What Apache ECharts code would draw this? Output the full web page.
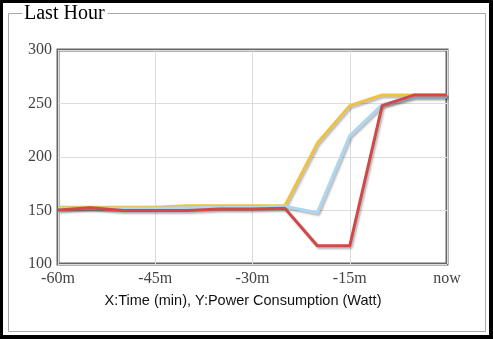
<!DOCTYPE html>
<html>
<head>
<meta charset="utf-8">
<script src="https://cdn.jsdelivr.net/npm/echarts@6/dist/echarts.min.js"></script>
<style>
  html, body { margin: 0; padding: 0; background: #000; }
  #chart { width: 493px; height: 339px; }
</style>
</head>
<body>
<div id="chart"></div>
<script>
// Minutes before now, one reading every 5 minutes
const minutes = [-60, -55, -50, -45, -40, -35, -30, -25, -20, -15, -10, -5, 0];

// Power consumption (W) of the three monitored feeds
const seriesYellow = [153, 153, 153, 153, 154.5, 154.5, 154.5, 154.5, 213, 248, 258, 258, 258];
const seriesBlue   = [152, 152, 152, 152, 152.5, 153, 153, 154, 148, 220, 249, 256, 256];
const seriesRed    = [150.5, 152.5, 150, 150, 150, 151.5, 151.5, 152, 117, 117, 248, 258, 258];

const seriesColors = ['#f0c040', '#acd6f2', '#d04848'];

const xTicks = { min: -60, max: 0, step: 15 };
const yTicks = { min: 100, max: 300, step: 50 };

const pairs = vals => minutes.map((m, i) => [m, vals[i]]);

const lineSeries = (vals, color) => ({
  type: 'line',
  data: pairs(vals),
  showSymbol: false,
  symbol: 'none',
  animation: false,
  lineStyle: {
    color: color,
    width: 3,
    shadowColor: 'rgba(0,0,0,0.28)',
    shadowBlur: 2,
    shadowOffsetX: 1.5,
    shadowOffsetY: 2
  },
  itemStyle: { color: color }
});

const chart = echarts.init(document.getElementById('chart'), null, { renderer: 'canvas' });

chart.setOption({
  backgroundColor: '#000',
  animation: false,
  graphic: [
    { type: 'rect', z: -10, silent: true,
      shape: { x: 3, y: 3, width: 486, height: 332 },
      style: { fill: '#fff' } },
    { type: 'rect', z: -9, silent: true,
      shape: { x: 8.5, y: 13.5, width: 477, height: 318 },
      style: { fill: 'none', stroke: '#a8a8a8', lineWidth: 1 } },
    { type: 'rect', z: -8, silent: true,
      shape: { x: 22.5, y: 8, width: 85, height: 12 },
      style: { fill: '#fff' } },
    { type: 'text', z: 10, silent: true,
      style: { x: 24, y: 14, text: 'Last Hour', fill: '#000',
        font: '20px "Liberation Serif", "Times New Roman", serif',
        textVerticalAlign: 'middle' } },
    { type: 'text', z: 10, silent: true,
      style: { x: 243, y: 301, text: 'X:Time (min), Y:Power Consumption (Watt)',
        fill: '#111', font: '14.5px "Liberation Sans", Arial, sans-serif',
        textAlign: 'center', textVerticalAlign: 'middle' } }
  ],
  grid: {
    left: 58, right: 46, top: 50, bottom: 75,
    show: true, borderColor: '#666', borderWidth: 3, backgroundColor: '#fff'
  },
  xAxis: {
    type: 'value',
    min: xTicks.min, max: xTicks.max, interval: xTicks.step,
    axisLine: { show: false },
    axisTick: { show: false },
    splitLine: { show: true, lineStyle: { color: '#dcdcdc', width: 1 } },
    axisLabel: {
      margin: 7,
      color: '#444',
      fontFamily: '"Liberation Serif", "Times New Roman", serif',
      fontSize: 16,
      formatter: v => (v === 0 ? 'now' : v + 'm')
    }
  },
  yAxis: {
    type: 'value',
    min: yTicks.min, max: yTicks.max, interval: yTicks.step,
    axisLine: { show: false },
    axisTick: { show: false },
    splitLine: { show: true, lineStyle: { color: '#dcdcdc', width: 1 } },
    axisLabel: {
      margin: 6,
      color: '#444',
      fontFamily: '"Liberation Serif", "Times New Roman", serif',
      fontSize: 16
    }
  },
  series: [
    lineSeries(seriesYellow, seriesColors[0]),
    lineSeries(seriesBlue, seriesColors[1]),
    lineSeries(seriesRed, seriesColors[2])
  ]
});
</script>
</body>
</html>
